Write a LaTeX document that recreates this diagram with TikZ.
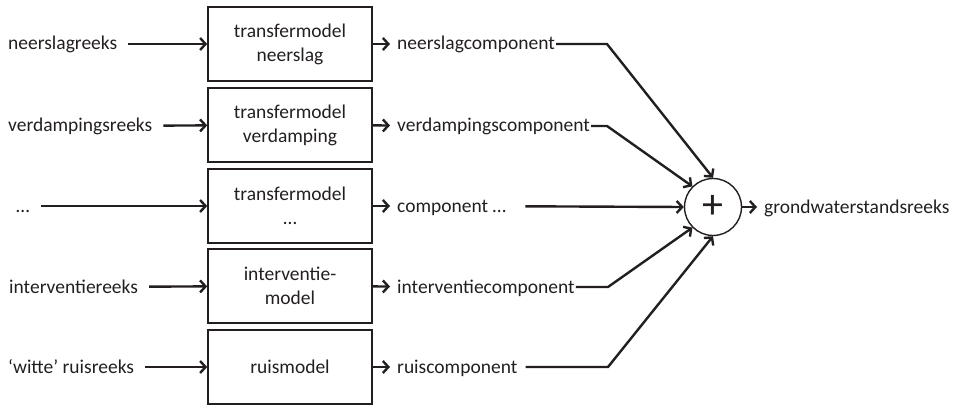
\documentclass[tikz,border=0pt]{standalone}
\usepackage{fontspec}
\setmainfont{Carlito}
\usepackage{tikz}
\usetikzlibrary{arrows.meta}
\definecolor{ink}{RGB}{35,31,32}

\begin{document}
\begin{tikzpicture}[x=1pt, y=-1pt, line width=2.4pt, color=ink,
  >={Straight Barb[length=5.5pt,width=12pt]},
  every node/.style={font=\fontsize{19.5}{24}\selectfont, inner sep=0pt},
  lbl/.style={anchor=west, text height=14pt, text depth=2pt},
  model/.style={draw, line width=1.6pt, minimum width=164pt, minimum height=74pt, align=center}]
\useasboundingbox (0,0) rectangle (960,406);

% inputs
\node[lbl] (in1) at (7,44) {neerslagreeks};
\node[lbl] (in2) at (7,126) {verdampingsreeks};
\node[lbl] (in3) at (15,206) {…};
\node[lbl] (in4) at (8,287) {interventiereeks};
\node[lbl] (in5) at (7,367) {‘witte’ ruisreeks};

% models
\node[model] (m1) at (290,44) {transfermodel\\neerslag};
\node[model] (m2) at (290,125) {transfermodel\\verdamping};
\node[model] (m3) at (290,206) {transfermodel\\…};
\node[model] (m4) at (290,286) {interventie-\\model};
\node[model] (m5) at (290,367) {ruismodel};

% components
\node[lbl] (c1) at (396,44) {neerslagcomponent};
\node[lbl] (c2) at (396,126) {verdampingscomponent};
\node[lbl] (c3) at (396,206) {component …};
\node[lbl] (c4) at (396,287) {interventiecomponent};
\node[lbl] (c5) at (396,367) {ruiscomponent};

\coordinate (k1) at (607,44);
\coordinate (k2) at (607,126);
\coordinate (k4) at (608,287);
\coordinate (k5) at (608,367);

% sum
\node[draw, circle, line width=1.4pt, minimum size=57pt,
  font=\fontsize{42}{42}\selectfont] (sum) at (713,207) {+};
\node[lbl] (out) at (763,207) {grondwaterstandsreeks};

\draw[shorten <=10pt]
	(in1) edge[->] (m1)
	(in2) edge[->] (m2)
	(in3) edge[->] (m3)
	(in4) edge[->] (m4)
	(in5) edge[->] (m5)
;
\draw[shorten >=6pt]
	(m1) edge[->] (c1)
	(m2) edge[->] (c2)
	(m3) edge[->] (c3)
	(m4) edge[->] (c4)
	(m5) edge[->] (c5)
	(sum) edge[->] (out)
;

\draw[->] (c1) -- (k1) -- (sum.north);
\draw[->] (c2) -- (k2) -- (sum.north west);
\draw[->, shorten <=18pt] (c3) -- (sum.west);
\draw[->] (c4) -- (k4) -- (sum.south west);
\draw[->, shorten <=7pt] (c5) -- (k5) -- (sum.south);
\end{tikzpicture}
\end{document}
